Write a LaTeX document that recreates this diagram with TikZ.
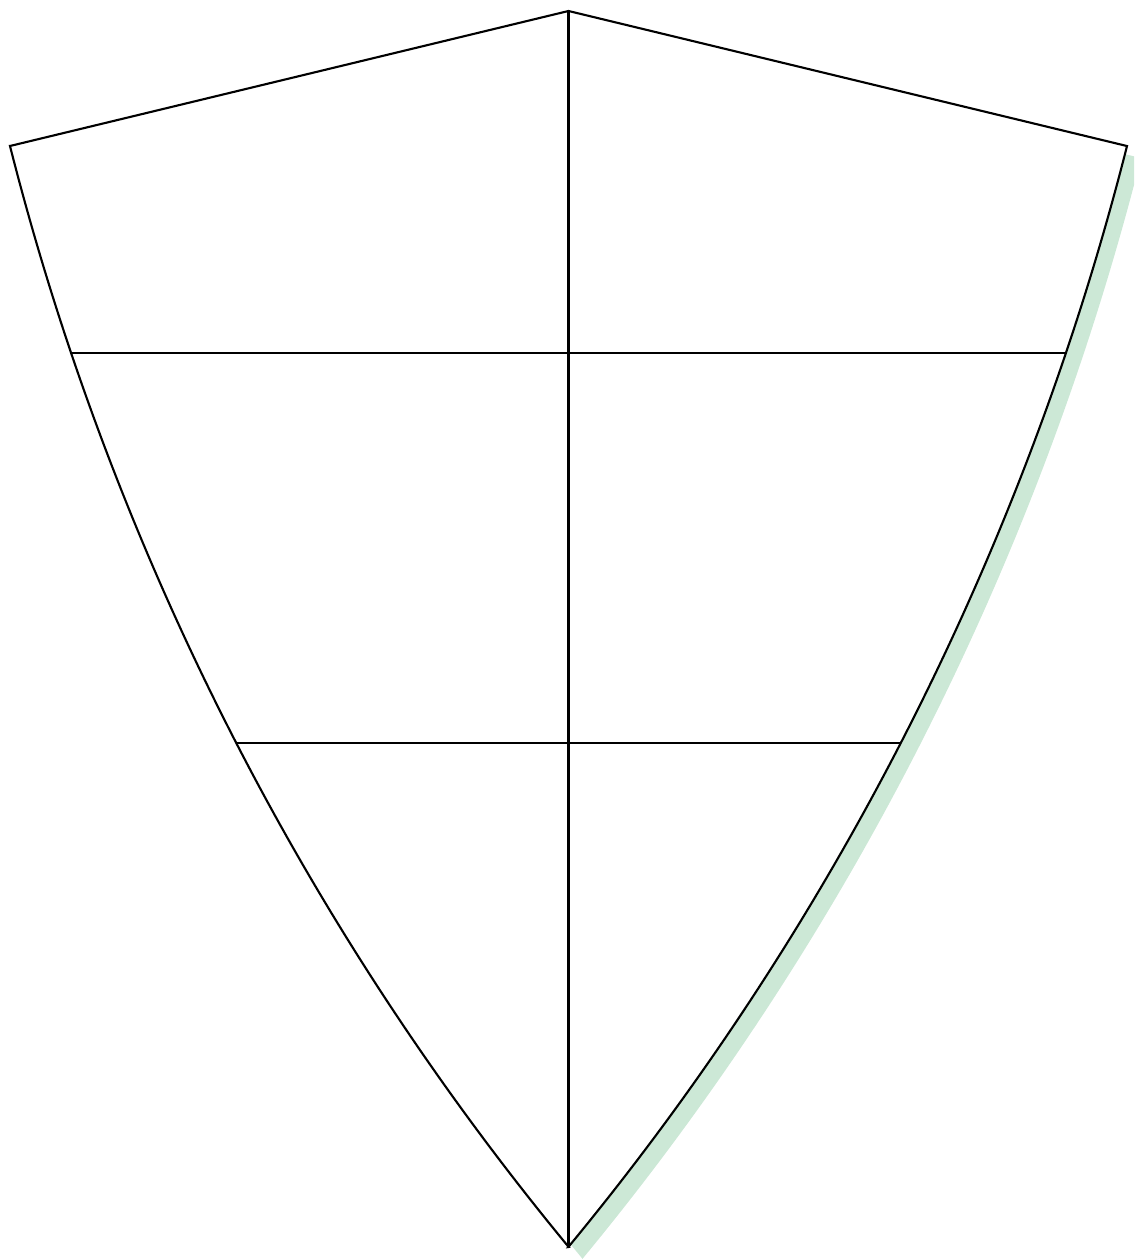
\documentclass[tikz,border=0pt]{standalone}
\definecolor{shadowgreen}{RGB}{204,232,214}
\begin{document}
\begin{tikzpicture}[x=1cm,y=-1cm,
  declare function={xl(\t)=27.419-sqrt(794.5-(\t+5.48)^2); xr(\t)=11.37-xl(\t);},
  shieldline/.style={line width=0.6pt, line join=miter, black}]
\clip (0,0) rectangle (11.34,12.59);
\def\shieldpath{(5.685,0.11) -- (0.10,1.46) -- plot[domain=1.46:12.47, samples=90] ({xl(\x)},\x) -- plot[domain=12.47:1.46, samples=90] ({xr(\x)},\x) -- cycle}
% shadow
\begin{scope}[shift={(0.14,0.12)}]
  \fill[shadowgreen] \shieldpath;
\end{scope}
% shield
\filldraw[shieldline, fill=white] \shieldpath;
\coordinate (apex) at (5.685,0.11);
\coordinate (tip) at (5.685,12.47);
\coordinate (l1) at ({xl(3.53)},3.53);
\coordinate (r1) at ({xr(3.53)},3.53);
\coordinate (l2) at ({xl(7.43)},7.43);
\coordinate (r2) at ({xr(7.43)},7.43);
\draw[shieldline] (apex) -- (tip);
\draw[shieldline] (l1) -- (r1);
\draw[shieldline] (l2) -- (r2);
\end{tikzpicture}
\end{document}
